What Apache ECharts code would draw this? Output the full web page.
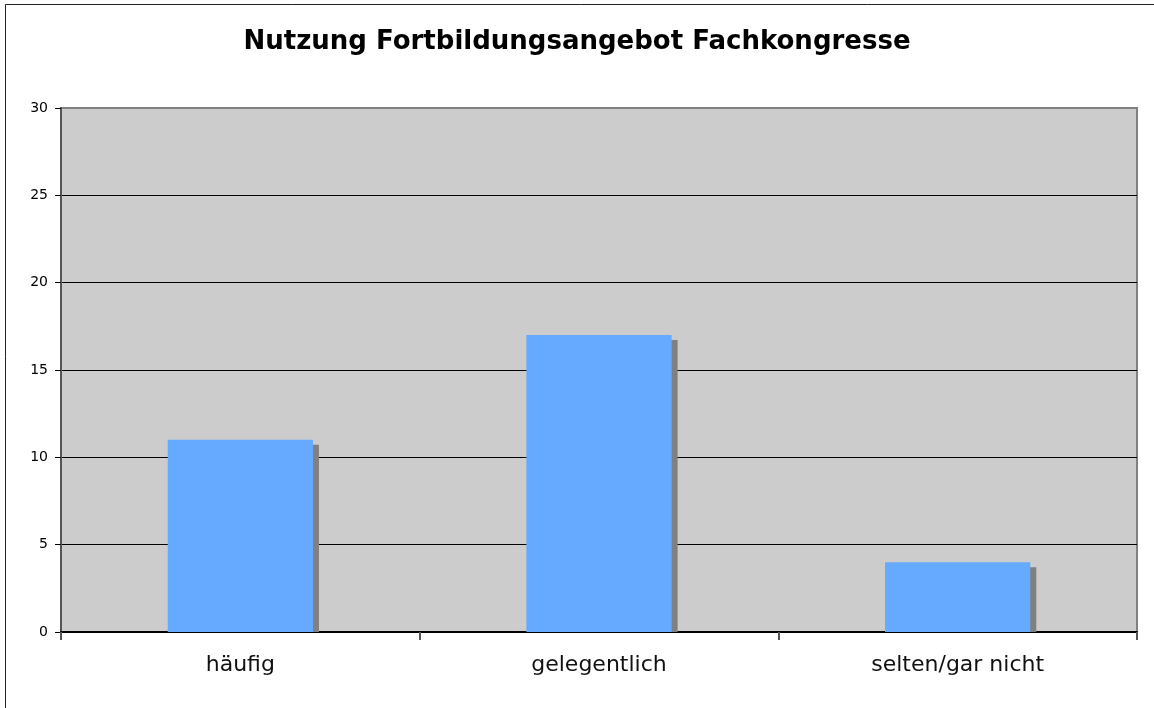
<!DOCTYPE html>
<html>
<head>
<meta charset="utf-8">
<script src="https://cdn.jsdelivr.net/npm/echarts@6/dist/echarts.min.js"></script>
<style>
  html, body { margin: 0; padding: 0; background: #fff; }
  #chart { width: 1154px; height: 708px; }
</style>
</head>
<body>
<div id="chart"></div>
<script>
// Daten
const categories = ['häufig', 'gelegentlich', 'selten/gar nicht']
const values = [11, 17, 4]
const yTicks = [0, 5, 10, 15, 20, 25, 30]

const chart = echarts.init(document.getElementById('chart'))

// Balken mit Schatten (rechts unten versetzt)
function renderBar(params, api) {
  const idx = api.value(0)
  const top = api.coord([idx, api.value(1)])
  const base = api.coord([idx, 0])
  const band = api.size([1, 0])[0]
  const w = band * 0.405
  const x = top[0] - w / 2
  return {
    type: 'group',
    children: [
      {
        type: 'rect',
        shape: { x: x + 6, y: top[1] + 5, width: w, height: base[1] - top[1] - 5 },
        style: { fill: '#808080' }
      },
      {
        type: 'rect',
        shape: { x: x, y: top[1], width: w, height: base[1] - top[1] },
        style: { fill: '#66aaff' }
      }
    ]
  }
}

// oberste Gitterlinie grau wie der Rahmen
const splitColors = yTicks.map((t, i) => (i === yTicks.length - 1 ? '#808080' : '#000'))

const option = {
  animation: false,
  backgroundColor: '#ffffff',
  title: {
    text: 'Nutzung Fortbildungsangebot Fachkongresse',
    left: 'center',
    top: 24,
    textStyle: { fontFamily: 'DejaVu Sans', fontWeight: 'bold', fontSize: 26, color: '#000' }
  },
  grid: {
    left: 61,
    right: 17,
    top: 108,
    bottom: 76,
    show: true,
    backgroundColor: '#cccccc',
    borderColor: '#808080',
    borderWidth: 2
  },
  xAxis: {
    type: 'category',
    data: categories,
    axisLine: { lineStyle: { color: '#000', width: 2 } },
    axisTick: { show: true, length: 8, alignWithLabel: false, lineStyle: { color: '#555', width: 2 } },
    axisLabel: { fontFamily: 'DejaVu Sans', fontSize: 22, color: '#111', margin: 22 }
  },
  yAxis: {
    type: 'value',
    min: yTicks[0],
    max: yTicks[yTicks.length - 1],
    interval: 5,
    axisLine: { show: true, lineStyle: { color: '#555', width: 2 } },
    axisTick: { show: true, length: 6, lineStyle: { color: '#000' } },
    axisLabel: { fontFamily: 'DejaVu Sans', fontSize: 14, color: '#000', margin: 13 },
    splitLine: { show: true, lineStyle: { color: splitColors, width: 1 } }
  },
  graphic: [
    {
      type: 'rect',
      shape: { x: 5.5, y: 4.5, width: 1160, height: 720 },
      style: { fill: null, stroke: '#222', lineWidth: 1 },
      silent: true,
      z: -1
    }
  ],
  series: [
    {
      type: 'custom',
      renderItem: renderBar,
      encode: { x: 0, y: 1 },
      data: values.map((v, i) => [i, v]),
      z: 3
    }
  ]
}

chart.setOption(option)
</script>
</body>
</html>
